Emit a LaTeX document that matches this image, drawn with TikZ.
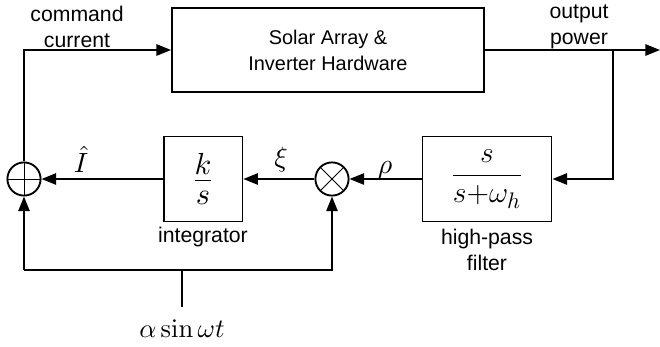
\documentclass[tikz,border=0pt]{standalone}
\usepackage{amsmath}
\usepackage[no-math]{fontspec}
\setmainfont{Liberation Sans}
\usetikzlibrary{arrows.meta,positioning}

\begin{document}
\begin{tikzpicture}[
    x=0.0265cm, y=-0.0265cm,
    block/.style={draw, line width=1.4pt, inner sep=0pt, align=center, font=\fontsize{15}{19.5}\selectfont},
    junction/.style={draw, circle, line width=1.4pt, minimum size=0.88cm, inner sep=0pt},
    sumjunc/.style={junction, path picture={\draw[line width=0.7pt]
        (path picture bounding box.north) -- (path picture bounding box.south)
        (path picture bounding box.west) -- (path picture bounding box.east);}},
    multjunc/.style={junction, path picture={\draw[line width=0.7pt]
        (path picture bounding box.north west) -- (path picture bounding box.south east)
        (path picture bounding box.south west) -- (path picture bounding box.north east);}},
    wire/.style={line width=1.4pt},
    signal/.style={line width=1.4pt, -{Triangle[length=11pt,width=8.5pt]}},
    caption/.style={font=\fontsize{16}{19.5}\selectfont, align=center},
    siglabel/.style={inner sep=0pt, anchor=base}
]
\useasboundingbox (0,0) rectangle (660,347);

% Plant
\node[block, minimum width=8.27cm, minimum height=2.23cm] (solar) at (328,50)
    {Solar Array \&\\Inverter Hardware};

% Feedback blocks
\node[block, minimum width=2.09cm, minimum height=2.25cm] (integ) at (203,179)
    {\scalebox{2.1}{$\frac{k}{s}$}};
\node[block, minimum width=3.42cm, minimum height=2.25cm] (hpf) at (487,179)
    {\scalebox{1.55}{$\dfrac{s}{s{+}\omega_h}$}};
\node[caption] (integlbl) at (203,237) {integrator};
\node[caption] (hpflbl) at (487,250) {high-pass\\filter};

% Junctions
\node[sumjunc] (sum) at (24,179) {};
\node[multjunc] (mult) at (332,179) {};

% Helper points
\coordinate (outend) at (660,50);
\coordinate (tap) at (613,50);
\coordinate (ditherL) at (24,270);
\coordinate (ditherR) at (332,270);
\coordinate (dither) at (182,270);
\coordinate (ditherin) at (182,307);
\node[siglabel] (ditherlbl) at (182,337) {\scalebox{2.0}{$\alpha\sin\omega t$}};

% Signals
\draw[signal] (sum.north) |- (solar.west);
\draw[signal] (solar.east) -- (outend);
\draw[signal] (tap) |- (hpf.east);
\draw[signal] (hpf.west) -- (mult.east);
\draw[signal] (mult.west) -- (integ.east);
\draw[signal] (integ.west) -- (sum.east);
\draw[wire] (ditherin) -- (dither);
\draw[signal] (ditherL) -| (sum.south);
\draw[signal] (ditherL) -- (ditherR) -- (mult.south);

% Labels
\node[caption] (cmdlbl) at (77,27) {command\\current};
\node[caption] (outlbl) at (579,27) {output\\power};
\node[siglabel] (Ihat) at (81,173) {\scalebox{2.1}{$\hat{I}$}};
\node[siglabel] (xi) at (281,167) {\scalebox{2.1}{$\xi$}};
\node[siglabel] (rho) at (385,174) {\scalebox{2.1}{$\rho$}};

\end{tikzpicture}
\end{document}
